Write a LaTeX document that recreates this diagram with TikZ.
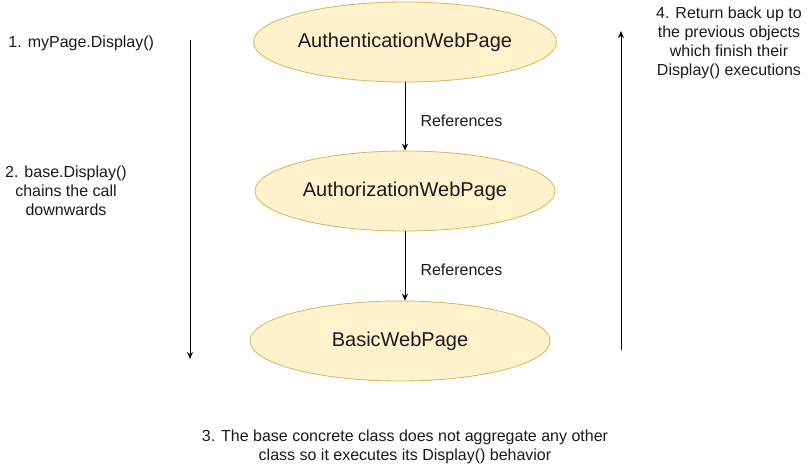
\documentclass[tikz,border=0pt]{standalone}
\usepackage{fontspec}
\setmainfont{Liberation Sans}
\usepackage{xcolor}
\usetikzlibrary{arrows.meta,shapes.geometric}

\definecolor{pagefill}{HTML}{FFF2CC}
\definecolor{pageline}{HTML}{D6B656}
\definecolor{txt}{HTML}{1A1A1A}

\begin{document}
\begin{tikzpicture}[x=1pt, y=-1pt, line width=1pt,
    page/.style={ellipse, draw=pageline, fill=pagefill, line width=0.8pt,
        minimum width=300pt, minimum height=80pt, inner sep=0pt,
        font=\fontsize{20}{24}\selectfont, text=txt},
    note/.style={align=center, inner sep=0pt, text=txt,
        font=\fontsize{16}{19}\selectfont},
    flow/.style={-{Stealth[length=7pt,width=6pt]}}]
\useasboundingbox (0,0) rectangle (811,471);

% The three pages
\node[page] (auth) at (405,42) {AuthenticationWebPage};
\node[page] (authz) at (405,191) {AuthorizationWebPage};
\node[page] (basic) at (400,341) {BasicWebPage};

\draw[flow] (auth.south) -- (authz.north)
    node[midway, right=15pt, yshift=-4pt, note] (ref1) {References};
\draw[flow] (authz.south) -- (basic.north -| authz.south)
    node[midway, right=15pt, yshift=-4pt, note] (ref2) {References};

% Call chain down and back up
\coordinate (downtop) at (190,40);
\coordinate (downend) at (190,359);
\draw[flow] (downtop) -- (downend);

\coordinate (upbottom) at (621,350);
\coordinate (uptop) at (621,31);
\draw[flow] (upbottom) -- (uptop);

% Notes
\node[note, anchor=west] (step1) at (8,43) {1. myPage.Display()};
\node[note] (step2) at (66,191) {2. base.Display()\\chains the call\\downwards};
\node[note] (step3) at (405,447) {3. The base concrete class does not aggregate any other\\class so it executes its Display() behavior};
\node[note] (step4) at (729,43) {4. Return back up to\\the previous objects\\which finish their\\Display() executions};
\end{tikzpicture}
\end{document}
